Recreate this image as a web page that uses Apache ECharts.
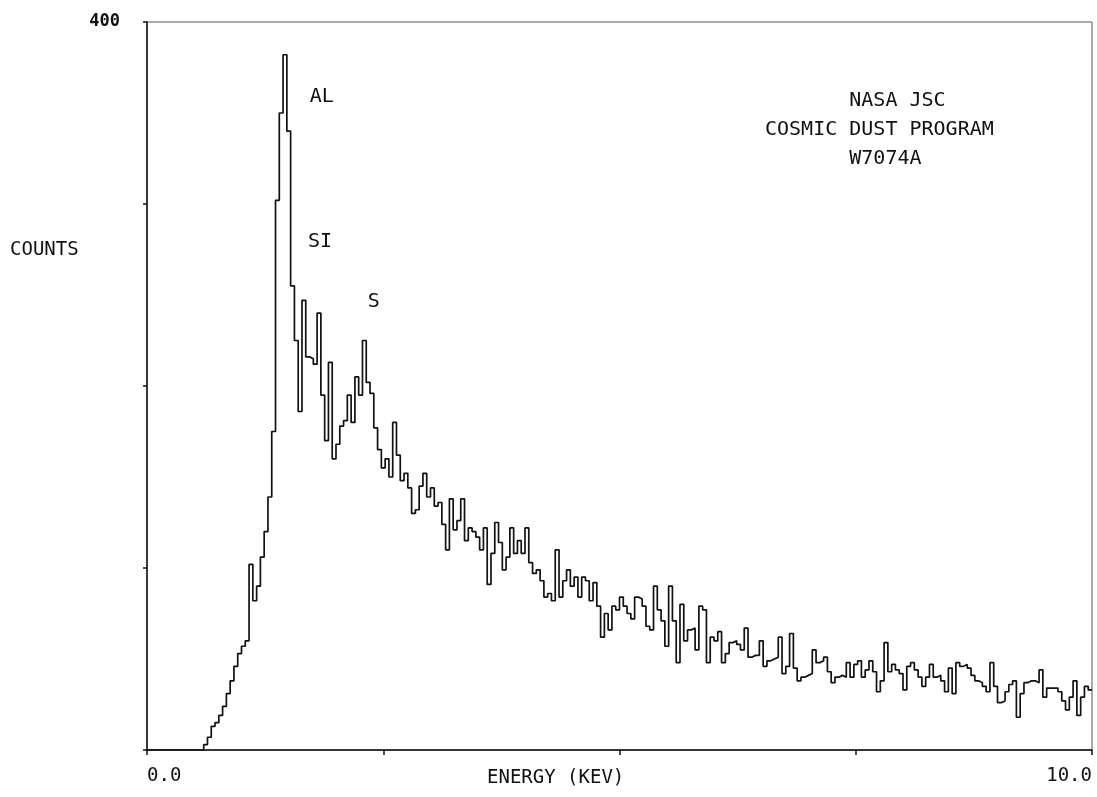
<!DOCTYPE html>
<html>
<head>
<meta charset="utf-8">
<script src="https://cdn.jsdelivr.net/npm/echarts@6/dist/echarts.min.js"></script>
<style>
html,body{margin:0;padding:0;background:#fff;}
#chart{width:1097px;height:797px;}
</style>
</head>
<body>
<div id="chart"></div>
<script>
// ---- data ----
const channelWidthKeV = 0.04;           // energy width of one channel
const counts = [
  0,0,0,0,0,0,0,0,0,0,0,0,0,0,0,
  3,7,13,15,19,24,31,38,46,53,57,60,102,82,90,
  106,120,139,175,302,350,382,340,255,225,
  186,247,216,215,212,240,195,170,213,160,
  168,178,181,195,180,205,195,225,202,196,
  177,165,155,160,150,180,162,148,152,144,
  130,132,145,152,139,144,134,136,124,110,
  138,121,126,138,115,122,120,117,110,122,
  91,108,125,114,99,106,122,108,115,108,
  122,103,97,99,93,84,86,82,110,84,
  93,99,90,95,84,95,93,82,92,79,
  62,75,66,79,77,84,79,75,72,84,
  83,79,68,66,90,77,71,57,90,71,
  48,80,60,66,67,55,79,77,48,62,
  60,65,48,53,59,60,58,55,67,51,
  52,52,60,46,49,50,51,62,42,46,
  64,45,38,40,41,42,55,48,49,51,
  43,37,40,41,40,48,40,47,49,40,
  44,49,43,32,38,59,43,47,44,42,
  33,46,48,44,40,35,40,47,40,41,
  38,32,45,31,48,46,47,45,41,38,
  37,35,32,48,35,26,27,32,36,38,
  18,31,37,38,38,37,44,29,34,34,
  34,32,27,22,29,38,19,29,35,33
];
const xMin = 0, xMax = 10, xTick = 2.5;
const yMin = 0, yMax = 400, yTick = 100;
const xTickLabels = { 0: '0.0', 10: '10.0' };
const yTickLabels = { 400: '400' };
const peakNames = ['AL', 'SI', 'S'];
const peakLabelEnergy = [1.85, 1.83, 2.40];
const peakLabelCounts = [359, 279, 246];
const infoLines = ['       NASA JSC', 'COSMIC DUST PROGRAM', '       W7074A'];
const xName = 'ENERGY (KEV)';
const yName = 'COUNTS';

// ---- build ----
const FONT = "'DejaVu Sans Mono', 'Liberation Mono', monospace";
const INK = '#111111';
const seriesData = counts.map((c, i) => [i * channelWidthKeV, c]);
seriesData.push([xMax, counts[counts.length - 1]]);

const chart = echarts.init(document.getElementById('chart'), null, { renderer: 'canvas' });
chart.setOption({
  animation: false,
  backgroundColor: '#ffffff',
  grid: { left: 147, right: 5, top: 22, bottom: 47, show: true, borderColor: '#555', borderWidth: 1 },
  xAxis: {
    type: 'value', min: xMin, max: xMax, interval: xTick,
    axisLine: { show: true, lineStyle: { color: INK, width: 1.5 } },
    axisTick: { show: true, length: 5, lineStyle: { color: INK, width: 1.5 } },
    splitLine: { show: false },
    axisLabel: {
      show: true, margin: 17, color: INK, fontFamily: FONT, fontSize: 19,
      alignMinLabel: 'left', alignMaxLabel: 'right',
      formatter: v => (xTickLabels[v] !== undefined ? xTickLabels[v] : '')
    }
  },
  yAxis: {
    type: 'value', min: yMin, max: yMax, interval: yTick,
    axisLine: { show: true, lineStyle: { color: INK, width: 1.5 } },
    axisTick: { show: true, length: 4, lineStyle: { color: INK, width: 1.5 } },
    splitLine: { show: false },
    axisLabel: {
      show: true, margin: 27, color: INK, fontFamily: FONT, fontSize: 17, fontWeight: 'bold',
      formatter: v => (yTickLabels[v] !== undefined ? yTickLabels[v] : '')
    }
  },
  graphic: [
    { type: 'text', left: 10, top: 241, style: { text: yName, fill: INK, font: "19px " + FONT } },
    { type: 'text', left: 487, top: 769, style: { text: xName, fill: INK, font: "19px " + FONT } },
    { type: 'text', left: 765, top: 86, style: { text: infoLines.join('\n'), fill: INK, font: "20px " + FONT, lineHeight: 29 } }
  ],
  series: [{
    type: 'line',
    step: 'end',
    showSymbol: false,
    symbol: 'none',
    data: seriesData,
    lineStyle: { color: INK, width: 1.7 },
    markPoint: {
      symbol: 'circle', symbolSize: 0,
      label: { show: true, position: 'inside', color: INK, fontFamily: FONT, fontSize: 20, formatter: p => p.name },
      data: peakNames.map((n, i) => ({ name: n, coord: [peakLabelEnergy[i], peakLabelCounts[i]] }))
    }
  }]
});
</script>
</body>
</html>
